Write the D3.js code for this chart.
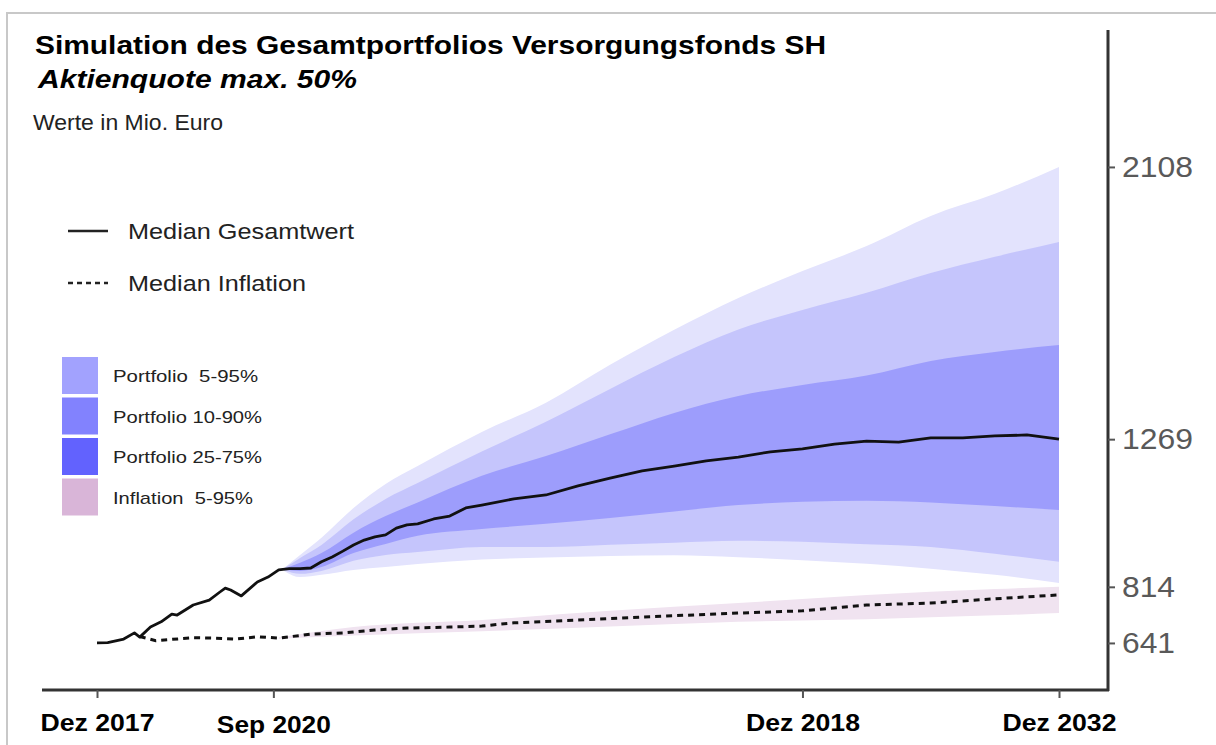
<!DOCTYPE html>
<html>
<head>
<meta charset="utf-8">
<script src="https://cdn.jsdelivr.net/npm/d3@7"></script>
<style>
  body { margin: 0; background: #fff; }
  svg { display: block; font-family: "Liberation Sans", Arial, sans-serif; }
</style>
</head>
<body>
<div id="container"></div>
<script>
// median total value (months after Dez 2017, Mio. Euro)
let medMonths = [0, 2, 5, 7, 8, 10, 12, 14, 15, 18, 21, 23, 24, 25, 27, 30, 32, 34, 36, 38, 40, 42, 44, 46, 48, 50, 52, 54, 56, 58, 60, 63, 66, 69, 72, 78, 84, 90, 96, 102, 108, 114, 120, 126, 132, 138, 144, 150, 156, 162, 168, 174, 180];
let medValues = [641, 642, 653, 672, 659, 690, 706, 730, 727, 758, 773, 798, 810, 804, 786, 829, 844, 866, 870, 870, 872, 891, 906, 924, 943, 958, 968, 974, 995, 1005, 1008, 1023, 1032, 1057, 1066, 1085, 1097, 1125, 1149, 1171, 1186, 1202, 1214, 1230, 1239, 1254, 1263, 1260, 1273, 1273, 1279, 1282, 1269];

// portfolio percentiles
let bandMonths = [35, 38, 42, 48, 54, 60, 72, 84, 96, 108, 120, 132, 144, 156, 168, 180];
let p95 = [872, 912, 965, 1057, 1131, 1186, 1291, 1381, 1498, 1606, 1704, 1787, 1864, 1957, 2025, 2108];
let p90 = [871, 903, 943, 1022, 1085, 1134, 1231, 1323, 1424, 1522, 1607, 1667, 1720, 1781, 1831, 1877];
let p75 = [870, 888, 918, 981, 1032, 1074, 1156, 1217, 1284, 1350, 1402, 1436, 1465, 1510, 1538, 1559];
let p25 = [867, 863, 875, 918, 946, 971, 992, 1008, 1026, 1046, 1066, 1076, 1079, 1074, 1063, 1051];
let p10 = [865, 854, 863, 894, 912, 921, 937, 937, 944, 950, 956, 953, 945, 937, 916, 891];
let p5 = [863, 844, 851, 866, 875, 884, 898, 904, 909, 911, 905, 896, 885, 870, 851, 826];

// inflation median + band
let infMonths = [8, 11, 14, 18, 22, 26, 30, 34, 40, 46, 52, 58, 66, 72, 78, 90, 102, 120, 132, 144, 156, 168, 180];
let infValues = [661, 648, 652, 657, 656, 653, 660, 656, 668, 672, 681, 687, 690, 693, 703, 712, 721, 733, 740, 758, 764, 777, 789];
let infBandMonths = [34, 48, 72, 96, 120, 144, 168, 180];
let inf95 = [658, 690, 712, 740, 764, 789, 807, 814];
let inf5 = [654, 664, 677, 692, 706, 714, 726, 733];

let xTickMonths = [0, 33, 132, 180];
let xTickLabels = ["Dez 2017", "Sep 2020", "Dez 2018", "Dez 2032"];
let yTicks = [641, 814, 1269, 2108];

let boxLabels = ["Portfolio  5-95%", "Portfolio 10-90%", "Portfolio 25-75%", "Inflation  5-95%"];
let boxColors = ["#a2a2fe", "#8282fe", "#6262fe", "#d9b5d8"];
let boxTextLen = [145, 149, 149, 140];

let svg = d3.select("#container").append("svg").attr("width", 1216).attr("height", 745);

// outer frame
svg.append("rect")
  .attr("x", 7).attr("y", 13)
  .attr("width", 1240).attr("height", 760)
  .attr("fill", "none").attr("stroke", "#c8c8c8").attr("stroke-width", 2);

let x = d3.scaleLinear().domain([0, 180]).range([97, 1059]);
let y = d3.scaleLinear().domain([496, 2530]).range([690, 30]);

let band = (lo, hi) => bandMonths.map((m, i) => ({ m: m, lo: lo[i], hi: hi[i] }));
let area = d3.area()
  .x(d => x(d.m))
  .y0(d => y(d.lo))
  .y1(d => y(d.hi))
  .curve(d3.curveMonotoneX);

// inflation band
svg.append("path")
  .datum(infBandMonths.map((m, i) => ({ m: m, lo: inf5[i], hi: inf95[i] })))
  .attr("d", area)
  .attr("fill", "#f0e3f0");

// portfolio fans
svg.append("path").datum(band(p5, p95)).attr("d", area).attr("fill", "#e3e3fd");
svg.append("path").datum(band(p10, p90)).attr("d", area).attr("fill", "#c5c5fc");
svg.append("path").datum(band(p25, p75)).attr("d", area).attr("fill", "#9d9dfc");

let line = d3.line().x(d => x(d[0])).y(d => y(d[1]));

svg.append("path")
  .datum(infMonths.map((m, i) => [m, infValues[i]]))
  .attr("d", line)
  .attr("fill", "none")
  .attr("stroke", "#111")
  .attr("stroke-width", 3)
  .attr("stroke-dasharray", "6,5");

svg.append("path")
  .datum(medMonths.map((m, i) => [m, medValues[i]]))
  .attr("d", line)
  .attr("fill", "none")
  .attr("stroke", "#111")
  .attr("stroke-width", 2.8)
  .attr("stroke-linejoin", "round");

// axes
svg.append("line").attr("x1", 42).attr("x2", 1109).attr("y1", 690).attr("y2", 690)
  .attr("stroke", "#333").attr("stroke-width", 3);
svg.append("line").attr("x1", 1108).attr("x2", 1108).attr("y1", 30).attr("y2", 691)
  .attr("stroke", "#333").attr("stroke-width", 3);

let xAxis = svg.append("g")
  .attr("transform", "translate(0,690)")
  .call(d3.axisBottom(x).tickValues(xTickMonths).tickSize(8).tickFormat((d, i) => xTickLabels[i]));
xAxis.select(".domain").remove();
xAxis.selectAll("line").attr("stroke", "#555").attr("stroke-width", 2);
xAxis.selectAll("text")
  .attr("y", (d, i) => i == 1 ? 27 : 25)
  .attr("fill", "#000")
  .style("font-size", "23px")
  .style("font-weight", "bold")
  .attr("textLength", 114)
  .attr("lengthAdjust", "spacingAndGlyphs");

let yAxis = svg.append("g")
  .attr("transform", "translate(1108,0)")
  .call(d3.axisRight(y).tickValues(yTicks).tickSize(7).tickFormat(d3.format("d")));
yAxis.select(".domain").remove();
yAxis.selectAll("line").attr("stroke", "#555").attr("stroke-width", 2);
yAxis.selectAll("text")
  .attr("x", 14)
  .attr("fill", "#595959")
  .style("font-size", "29px")
  .attr("textLength", d => d >= 1000 ? 71 : 53)
  .attr("lengthAdjust", "spacingAndGlyphs");

// titles
svg.append("text").attr("x", 35).attr("y", 54)
  .style("font-size", "26px").style("font-weight", "bold")
  .attr("textLength", 791).attr("lengthAdjust", "spacingAndGlyphs")
  .text("Simulation des Gesamtportfolios Versorgungsfonds SH");
svg.append("text").attr("x", 38).attr("y", 88)
  .style("font-size", "26px").style("font-weight", "bold").style("font-style", "italic")
  .attr("textLength", 319).attr("lengthAdjust", "spacingAndGlyphs")
  .text("Aktienquote max. 50%");
svg.append("text").attr("x", 33).attr("y", 130)
  .style("font-size", "22px").attr("fill", "#222")
  .attr("textLength", 190).attr("lengthAdjust", "spacingAndGlyphs")
  .text("Werte in Mio. Euro");

// line legend
svg.append("line").attr("x1", 68).attr("x2", 108).attr("y1", 231).attr("y2", 231)
  .attr("stroke", "#222").attr("stroke-width", 2.6);
svg.append("line").attr("x1", 68).attr("x2", 108).attr("y1", 283).attr("y2", 283)
  .attr("stroke", "#222").attr("stroke-width", 2.6).attr("stroke-dasharray", "5,4");
svg.append("text").attr("x", 128).attr("y", 239)
  .style("font-size", "22px").attr("fill", "#222")
  .attr("textLength", 226).attr("lengthAdjust", "spacingAndGlyphs")
  .text("Median Gesamtwert");
svg.append("text").attr("x", 128).attr("y", 291)
  .style("font-size", "22px").attr("fill", "#222")
  .attr("textLength", 178).attr("lengthAdjust", "spacingAndGlyphs")
  .text("Median Inflation");

// box legend
let boxes = svg.append("g").selectAll("g").data(boxLabels).join("g")
  .attr("transform", (d, i) => `translate(62,${357 + i * 40.5})`);
boxes.append("rect")
  .attr("width", 36).attr("height", 37)
  .attr("fill", (d, i) => boxColors[i]);
boxes.append("text")
  .attr("x", 51).attr("y", 25)
  .style("font-size", "17px").attr("fill", "#222")
  .attr("textLength", (d, i) => boxTextLen[i]).attr("lengthAdjust", "spacingAndGlyphs")
  .style("white-space", "pre")
  .text(d => d);
</script>
</body>
</html>
